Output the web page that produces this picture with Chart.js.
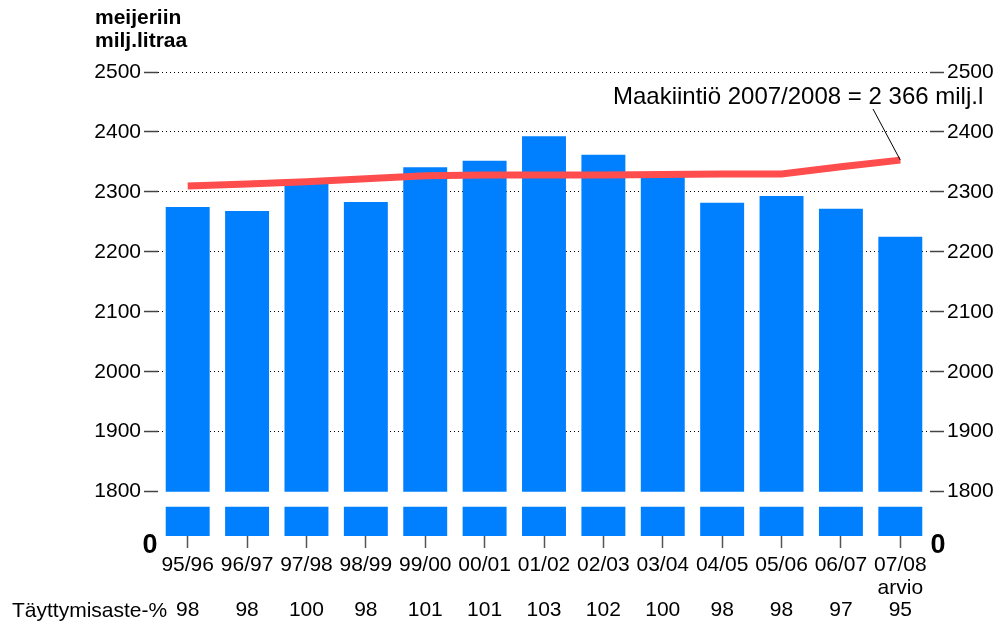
<!DOCTYPE html>
<html>
<head>
<meta charset="utf-8">
<script src="https://cdn.jsdelivr.net/npm/chart.js@4"></script>
<style>
  html, body { margin: 0; padding: 0; background: #fff; }
  #wrap { width: 996px; height: 626px; position: relative; }
</style>
</head>
<body>
<div id="wrap"><canvas id="chart" width="996" height="626"></canvas></div>
<script>
// vuodet, huomautukset ja täyttymisaste
const categories = ["95/96", "96/97", "97/98", "98/99", "99/00", "00/01", "01/02", "02/03", "03/04", "04/05", "05/06", "06/07", "07/08"];
const notes = ["", "", "", "", "", "", "", "", "", "", "", "", "arvio"];
const fillPct = [98, 98, 100, 98, 101, 101, 103, 102, 100, 98, 98, 97, 95];

// meijeriin toimitettu maito, milj. litraa
const delivered = [2275, 2268, 2316, 2283, 2341, 2352, 2393, 2362, 2328, 2282, 2293, 2272, 2225];
// maakiintiö
const quota = [2310, 2313, 2317, 2322, 2327, 2328, 2328, 2328, 2329, 2330, 2330, 2342, 2353];

const yTicks = [1800, 1900, 2000, 2100, 2200, 2300, 2400, 2500];
const breakAt = 1800;   // katkaistu akseli
const yMin = 1726;
const stubTop = 1775;

const FONT = "'Liberation Sans', Arial, sans-serif";

const labels = categories.map((c, i) => [c, notes[i], String(fillPct[i])]);

const extras = {
  id: "extras",
  afterDraw(chart) {
    const { ctx, scales } = chart;
    ctx.save();
    ctx.fillStyle = "#000";
    ctx.textBaseline = "middle";

    ctx.font = "bold 21px " + FONT;
    ctx.textAlign = "left";
    ctx.fillText("meijeriin", 95, 18);
    ctx.fillText("milj.litraa", 95, 41);

    ctx.font = "bold 27px " + FONT;
    ctx.textAlign = "center";
    ctx.fillText("0", 150, 546);
    ctx.fillText("0", 938, 546);

    ctx.font = "21px " + FONT;
    ctx.textAlign = "left";
    ctx.fillText("Täyttymisaste-%", 12, 611);

    ctx.font = "24px " + FONT;
    ctx.fillText("Maakiintiö 2007/2008 = 2 366 milj.l", 613, 97);
    const last = quota.length - 1;
    const px = scales.x.getPixelForValue(last);
    const py = scales.y.getPixelForValue(quota[last]);
    ctx.strokeStyle = "#000";
    ctx.lineWidth = 1;
    ctx.beginPath();
    ctx.moveTo(873, 109);
    ctx.lineTo(px, py);
    ctx.stroke();
    ctx.restore();
  }
};

function yAxis(position) {
  return {
    type: "linear",
    position: position,
    min: yMin,
    max: 2500,
    afterBuildTicks: (scale) => { scale.ticks = yTicks.map((v) => ({ value: v })); },
    afterFit: (scale) => { scale.width = position === "left" ? 158 : 66; },
    border: { display: false, dash: [1, 3] },
    grid: {
      drawOnChartArea: position === "left",
      color: (c) => (c.tick && c.tick.value === breakAt ? "rgba(0,0,0,0)" : "#000"),
      lineWidth: 1,
      tickLength: 14,
      tickColor: "#444",
      tickWidth: 1.5,
      tickBorderDash: []
    },
    ticks: {
      padding: 3,
      color: "#000",
      font: { family: FONT, size: 21 },
      callback: (v) => String(v)
    }
  };
}

new Chart(document.getElementById("chart"), {
  data: {
    labels: labels,
    datasets: [
      {
        type: "line",
        data: quota,
        borderColor: "#ff4d4d",
        borderWidth: 7,
        pointRadius: 0,
        tension: 0,
        order: 0,
        yAxisID: "y"
      },
      {
        type: "bar",
        data: delivered.map((v) => [breakAt, v]),
        backgroundColor: "#0080ff",
        grouped: false,
        barPercentage: 0.74,
        categoryPercentage: 1,
        order: 1,
        yAxisID: "y"
      },
      {
        type: "bar",
        data: delivered.map(() => [yMin, stubTop]),
        backgroundColor: "#0080ff",
        grouped: false,
        barPercentage: 0.74,
        categoryPercentage: 1,
        order: 2,
        yAxisID: "y"
      }
    ]
  },
  options: {
    responsive: false,
    animation: false,
    layout: { padding: { top: 72, right: 0, bottom: 0, left: 0 } },
    plugins: { legend: { display: false }, tooltip: { enabled: false } },
    scales: {
      x: {
        afterFit: (scale) => { scale.height = 90; },
        border: { display: false },
        grid: {
          offset: false,
          drawOnChartArea: false,
          tickLength: 12,
          tickColor: "#555",
          tickWidth: 1.5
        },
        ticks: {
          padding: 6,
          maxRotation: 0,
          autoSkip: false,
          color: "#000",
          font: { family: FONT, size: 21, lineHeight: 1.07 }
        }
      },
      y: yAxis("left"),
      y2: yAxis("right")
    }
  },
  plugins: [extras]
});
</script>
</body>
</html>
